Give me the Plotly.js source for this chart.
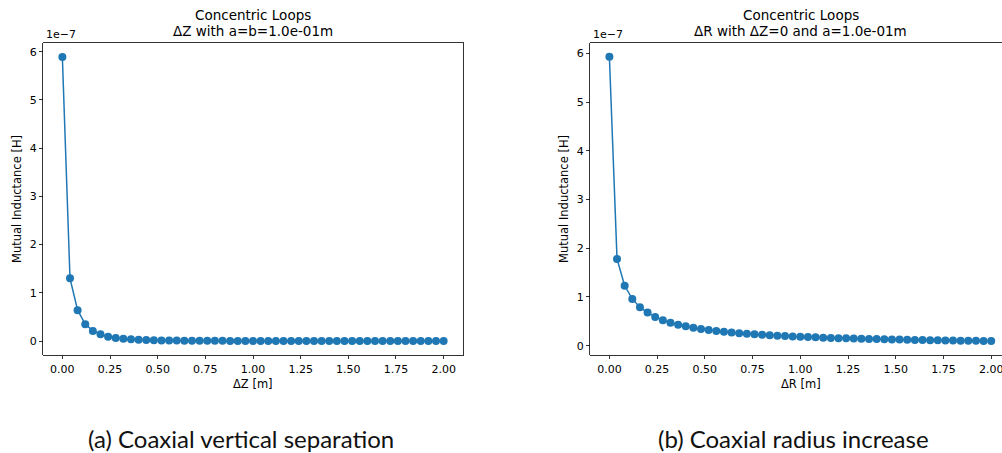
<!DOCTYPE html>
<html>
<head>
<meta charset="utf-8">
<script src="https://cdn.plot.ly/plotly-3.0.1.min.js"></script>
<style>
html,body{margin:0;padding:0;overflow:hidden;background:#fff;}
#chart{width:1012px;height:453px;}
</style>
</head>
<body>
<div id="chart"></div>
<script>
// Data (mutual inductance in units of 1e-7 H)
const dzValues = [0, 0.04, 0.08, 0.12, 0.16, 0.20, 0.24, 0.28, 0.32, 0.36, 0.40, 0.44, 0.48, 0.52, 0.56, 0.60, 0.64, 0.68, 0.72, 0.76, 0.80, 0.84, 0.88, 0.92, 0.96, 1.00, 1.04, 1.08, 1.12, 1.16, 1.20, 1.24, 1.28, 1.32, 1.36, 1.40, 1.44, 1.48, 1.52, 1.56, 1.60, 1.64, 1.68, 1.72, 1.76, 1.80, 1.84, 1.88, 1.92, 1.96, 2.00];
const mVertical = [5.89, 1.30, 0.64, 0.35, 0.21, 0.14, 0.09, 0.065, 0.047, 0.035, 0.027, 0.021, 0.016, 0.013, 0.011, 0.009, 0.0075, 0.0063, 0.0053, 0.0045, 0.0038, 0.0033, 0.0029, 0.0025, 0.0022, 0.0019, 0.0017, 0.0015, 0.0013, 0.0012, 0.0011, 0.001, 0.0009, 0.0008, 0.00075, 0.0007, 0.00063, 0.00058, 0.00053, 0.00049, 0.00045, 0.00042, 0.00039, 0.00036, 0.00034, 0.00031, 0.00029, 0.00027, 0.00026, 0.00024, 0.00023];
const drValues = [0, 0.04, 0.08, 0.12, 0.16, 0.20, 0.24, 0.28, 0.32, 0.36, 0.40, 0.44, 0.48, 0.52, 0.56, 0.60, 0.64, 0.68, 0.72, 0.76, 0.80, 0.84, 0.88, 0.92, 0.96, 1.00, 1.04, 1.08, 1.12, 1.16, 1.20, 1.24, 1.28, 1.32, 1.36, 1.40, 1.44, 1.48, 1.52, 1.56, 1.60, 1.64, 1.68, 1.72, 1.76, 1.80, 1.84, 1.88, 1.92, 1.96, 2.00];
const mRadius = [5.93, 1.78, 1.23, 0.96, 0.79, 0.68, 0.59, 0.52, 0.47, 0.43, 0.40, 0.37, 0.345, 0.322, 0.302, 0.285, 0.27, 0.256, 0.244, 0.233, 0.223, 0.213, 0.205, 0.197, 0.19, 0.183, 0.177, 0.171, 0.165, 0.16, 0.155, 0.151, 0.146, 0.142, 0.138, 0.135, 0.131, 0.128, 0.125, 0.122, 0.119, 0.116, 0.114, 0.111, 0.109, 0.107, 0.104, 0.102, 0.100, 0.098, 0.096];
const yTickVals = [0, 1, 2, 3, 4, 5, 6];
const yTickText = ['0', '1', '2', '3', '4', '5', '6'];
const titlesA = ['Concentric Loops', 'ΔZ with a=b=1.0e-01m'];
const titlesB = ['Concentric Loops', 'ΔR with ΔZ=0 and a=1.0e-01m'];
const xLabelA = 'ΔZ [m]';
const xLabelB = 'ΔR [m]';
const yLabel = 'Mutual Inductance [H]';
const offsetText = '1e\u22127';
const captionA = '(a) Coaxial vertical separation';
const captionB = '(b) Coaxial radius increase';

const W = 1012, H = 453;
const px = x => x / W;
const py = y => 1 - y / H;
const blue = '#1f77b4';
const fontDV = 'DejaVu Sans, sans-serif';

const traceStyle = {
  type: 'scatter', mode: 'lines+markers',
  line: {color: blue, width: 1.5},
  marker: {color: blue, size: 8},
  showlegend: false, hoverinfo: 'skip'
};

const data = [
  Object.assign({x: dzValues, y: mVertical, xaxis: 'x', yaxis: 'y'}, traceStyle),
  Object.assign({x: drValues, y: mRadius, xaxis: 'x2', yaxis: 'y2'}, traceStyle)
];

function xAxis(domain) {
  return {
    domain: domain, range: [-0.1, 2.1], tickvals: [0, 0.25, 0.5, 0.75, 1, 1.25, 1.5, 1.75, 2],
    tickformat: '.2f', ticks: 'outside', ticklen: 3.5, tickwidth: 0.8, tickcolor: '#000',
    showline: true, mirror: true, linecolor: '#000', linewidth: 0.8,
    showgrid: false, zeroline: false,
    tickfont: {family: fontDV, size: 11, color: '#000'}, fixedrange: true
  };
}
function yAxis(domain, range, anchor) {
  return {
    domain: domain, range: range, tickvals: yTickVals, ticktext: yTickText,
    ticks: 'outside', ticklen: 3.5, tickwidth: 0.8, tickcolor: '#000',
    showline: true, mirror: true, linecolor: '#000', linewidth: 0.8,
    showgrid: false, zeroline: false, anchor: anchor,
    tickfont: {family: fontDV, size: 11, color: '#000'}, fixedrange: true
  };
}

const yDom = [py(355), py(42.7)];

function ann(text, x, y, size, opts) {
  return Object.assign({
    text: text, x: px(x), y: py(y), xref: 'paper', yref: 'paper',
    showarrow: false, xanchor: 'center', yanchor: 'middle',
    font: {family: fontDV, size: size, color: '#000'}
  }, opts || {});
}

const annotations = [
  ann(titlesA[0], 253, 15.5, 13.5),
  ann(titlesA[1], 253, 31, 13.5),
  ann(titlesB[0], 800.5, 15.5, 13.5),
  ann(titlesB[1], 800.5, 31, 13.5),
  ann(xLabelA, 253, 384, 11.5),
  ann(xLabelB, 800.5, 384, 11.5),
  ann(yLabel, 17, 199, 11.5, {textangle: -90}),
  ann(yLabel, 564, 199, 11.5, {textangle: -90}),
  ann(offsetText, 44, 34.5, 11, {xanchor: 'left'}),
  ann(offsetText, 590.5, 34.5, 11, {xanchor: 'left'}),
  ann(captionA, 241, 438, 24, {font: {family: 'Lato, sans-serif', size: 24, color: '#111'}}),
  ann(captionB, 793, 438, 24, {font: {family: 'Lato, sans-serif', size: 24, color: '#111'}})
];

const layout = {
  width: W, height: H,
  margin: {l: 0, r: 0, t: 0, b: 0, pad: 0},
  paper_bgcolor: '#fff', plot_bgcolor: '#fff',
  xaxis: xAxis([px(43.3), px(462.7)]),
  yaxis: yAxis(yDom, [-0.29, 6.187], 'x'),
  xaxis2: Object.assign(xAxis([px(590.3), px(1010.3)]), {anchor: 'y2'}),
  yaxis2: yAxis(yDom, [-0.191, 6.218], 'x2'),
  annotations: annotations
};

Plotly.newPlot('chart', data, layout, {staticPlot: true, displayModeBar: false});
</script>
</body>
</html>
